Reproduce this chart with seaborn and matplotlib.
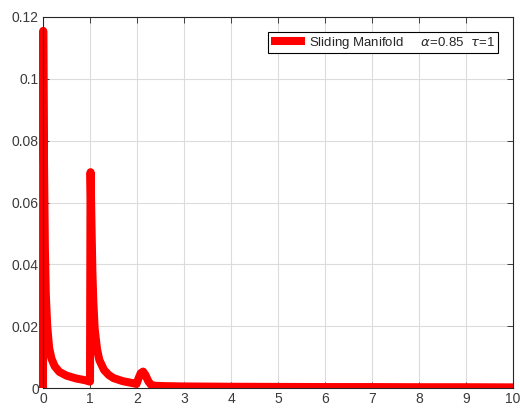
import numpy as np
import pandas as pd
import matplotlib
matplotlib.use("Agg")
import matplotlib.pyplot as plt
from matplotlib.patches import Rectangle
from matplotlib.ticker import FuncFormatter
import seaborn as sns

# Sliding manifold response, alpha = 0.85, tau = 1
t = [0.0, 0.004, 0.02, 0.04, 0.06, 0.09, 0.13, 0.18, 0.25, 0.35, 0.5, 0.7, 0.9, 0.99,
     1.0, 1.012, 1.03, 1.05, 1.07, 1.1, 1.15, 1.2, 1.3, 1.4, 1.5, 1.7, 1.9, 1.99,
     2.03, 2.08, 2.13, 2.18, 2.24, 2.3, 2.4, 2.6, 3.0, 4.0, 5.0, 6.0, 7.0, 8.0, 9.0, 10.0]
s = [0.0, 0.1155, 0.075, 0.045, 0.030, 0.020, 0.013, 0.0095, 0.007, 0.0052, 0.0040, 0.0031, 0.0025, 0.0021,
     0.0021, 0.0698, 0.054, 0.038, 0.028, 0.019, 0.0125, 0.009, 0.0058, 0.0042, 0.0032, 0.0022, 0.0016, 0.0013,
     0.0030, 0.0048, 0.0053, 0.0042, 0.0022, 0.0010, 0.0007, 0.0006, 0.0005, 0.0004, 0.00035, 0.0003, 0.0003, 0.00025, 0.00025, 0.0002]

x_ticks = [0, 1, 2, 3, 4, 5, 6, 7, 8, 9, 10]
y_ticks = [0, 0.02, 0.04, 0.06, 0.08, 0.1, 0.12]

sns.set_theme(style="whitegrid")
plt.rcParams["font.family"] = ["Liberation Sans", "DejaVu Sans"]

fig = plt.figure(figsize=(5.2, 4.09), dpi=100)
ax = fig.add_axes([43 / 520, 21 / 409, 470 / 520, 371 / 409])

df = pd.DataFrame({"t": t, "s": s})
sns.lineplot(data=df, x="t", y="s", ax=ax, estimator=None, sort=False,
             color="#ff0000", linewidth=5.8,
             label="Sliding Manifold     $\\alpha$=0.85  $\\tau$=1")
line = ax.lines[0]
line.set_solid_capstyle("round")
line.set_solid_joinstyle("round")
clip = Rectangle((-0.03, 0.0), 1.03, 1.0, transform=ax.transAxes, facecolor="none")
line.set_clip_path(clip)

ax.set_xlim(0, 10)
ax.set_ylim(0, 0.12)
ax.set_xticks(x_ticks)
ax.set_yticks(y_ticks)
ax.yaxis.set_major_formatter(FuncFormatter(lambda v, p: f"{v:g}"))
ax.set_xlabel("")
ax.set_ylabel("")

ax.grid(True, color="#dcdcdc", linewidth=0.8)
for sp in ax.spines.values():
    sp.set_visible(True)
    sp.set_color("#262626")
    sp.set_linewidth(0.8)
ax.tick_params(axis="both", direction="in", length=4, width=0.6, color="#262626",
               labelsize=10, labelcolor="#3a3a3a", pad=3, top=True, right=True,
               bottom=True, left=True)

leg = ax.legend(loc="upper right", bbox_to_anchor=(498 / 520, (409 - 32) / 409),
                bbox_transform=fig.transFigure, borderaxespad=0, fontsize=9.5,
                frameon=True, fancybox=False, framealpha=1, edgecolor="#000000",
                handlelength=2.6, handletextpad=0.3, borderpad=0.2)
leg.get_frame().set_linewidth(0.8)
leg.get_lines()[0].set_linewidth(5.8)
leg.get_lines()[0].set_solid_capstyle("butt")

fig.savefig("out.png", dpi=100)
